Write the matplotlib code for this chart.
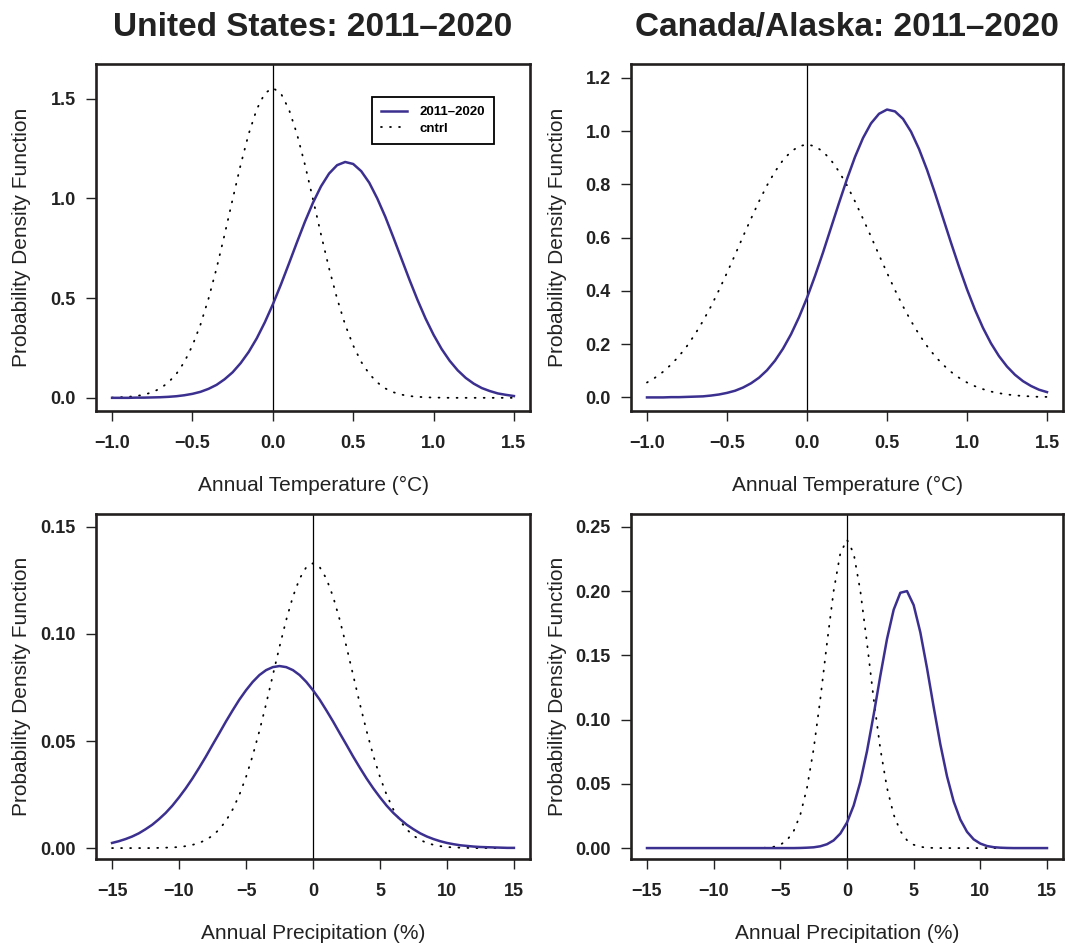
import numpy as np
import matplotlib
matplotlib.use("Agg")
import matplotlib.pyplot as plt

plt.rcParams["font.family"] = ["Liberation Sans", "DejaVu Sans"]

# --- data ---
temp_x = np.round(np.arange(-1.0, 1.5001, 0.05), 2)
precip_x = np.arange(-15.0, 15.01, 0.5)

us_temp_cntrl = [0.001, 0.003, 0.005, 0.009, 0.016, 0.028, 0.047, 0.077, 0.120, 0.180,
                 0.262, 0.367, 0.497, 0.649, 0.818, 0.995, 1.168, 1.323, 1.446, 1.526,
                 1.553, 1.526, 1.446, 1.323, 1.168, 0.995, 0.818, 0.649, 0.497, 0.367,
                 0.262, 0.180, 0.120, 0.077, 0.047, 0.028, 0.016, 0.009, 0.005, 0.003,
                 0.001, 0.001, 0.0, 0.0, 0.0, 0.0, 0.0, 0.0, 0.0, 0.0, 0.0]
us_temp_run = [0.000, 0.000, 0.000, 0.001, 0.001, 0.002, 0.003, 0.005, 0.008, 0.013,
               0.020, 0.030, 0.045, 0.065, 0.093, 0.128, 0.174, 0.230, 0.298, 0.378,
               0.468, 0.567, 0.672, 0.779, 0.883, 0.978, 1.060, 1.124, 1.166, 1.182,
               1.172, 1.136, 1.078, 0.999, 0.907, 0.804, 0.698, 0.592, 0.491, 0.398,
               0.316, 0.245, 0.186, 0.138, 0.100, 0.071, 0.049, 0.034, 0.022, 0.015,
               0.009]

ca_temp_cntrl = [0.056, 0.074, 0.096, 0.123, 0.155, 0.193, 0.237, 0.287, 0.342, 0.403,
                 0.468, 0.535, 0.604, 0.671, 0.736, 0.796, 0.848, 0.891, 0.923, 0.943,
                 0.950, 0.943, 0.923, 0.891, 0.848, 0.796, 0.736, 0.671, 0.604, 0.535,
                 0.468, 0.403, 0.342, 0.287, 0.237, 0.193, 0.155, 0.123, 0.096, 0.074,
                 0.056, 0.042, 0.031, 0.022, 0.016, 0.011, 0.008, 0.005, 0.004, 0.002,
                 0.002]
ca_temp_run = [0.000, 0.000, 0.000, 0.001, 0.001, 0.002, 0.003, 0.004, 0.007, 0.011,
               0.017, 0.025, 0.037, 0.053, 0.074, 0.102, 0.138, 0.183, 0.237, 0.301,
               0.374, 0.456, 0.544, 0.637, 0.730, 0.820, 0.903, 0.974, 1.029, 1.065,
               1.081, 1.074, 1.046, 0.998, 0.933, 0.855, 0.767, 0.674, 0.581, 0.491,
               0.406, 0.329, 0.261, 0.203, 0.155, 0.116, 0.085, 0.061, 0.043, 0.029,
               0.020]

us_precip_cntrl = [0.0, 0.0, 0.0, 0.0, 0.0, 0.0, 0.0, 0.0001, 0.0002, 0.0003,
                   0.0005, 0.0009, 0.0015, 0.0024, 0.0038, 0.0058, 0.0087, 0.0127, 0.0180, 0.0248,
                   0.0332, 0.0432, 0.0547, 0.0673, 0.0807, 0.0940, 0.1065, 0.1174, 0.1258, 0.1312,
                   0.1330,
                   0.1312, 0.1258, 0.1174, 0.1065, 0.0940, 0.0807, 0.0673, 0.0547, 0.0432, 0.0332,
                   0.0248, 0.0180, 0.0127, 0.0087, 0.0058, 0.0038, 0.0024, 0.0015, 0.0009, 0.0005,
                   0.0003, 0.0002, 0.0001, 0.0, 0.0, 0.0, 0.0, 0.0, 0.0, 0.0]
us_precip_run = [0.0024, 0.0032, 0.0042, 0.0054, 0.0069, 0.0088, 0.0109, 0.0135, 0.0164, 0.0198,
                 0.0237, 0.0279, 0.0325, 0.0375, 0.0427, 0.0482, 0.0536, 0.0591, 0.0643, 0.0693,
                 0.0737, 0.0776, 0.0808, 0.0831, 0.0845, 0.0850, 0.0845, 0.0831, 0.0808, 0.0776,
                 0.0737, 0.0693, 0.0643, 0.0591, 0.0536, 0.0482, 0.0427, 0.0375, 0.0325, 0.0279,
                 0.0237, 0.0198, 0.0164, 0.0135, 0.0109, 0.0088, 0.0069, 0.0054, 0.0042, 0.0032,
                 0.0024, 0.0018, 0.0013, 0.0010, 0.0007, 0.0005, 0.0004, 0.0003, 0.0002, 0.0001,
                 0.0001]

ca_precip_cntrl = [0.0, 0.0, 0.0, 0.0, 0.0, 0.0, 0.0, 0.0, 0.0, 0.0,
                   0.0, 0.0, 0.0, 0.0, 0.0, 0.0, 0.0, 0.0001, 0.0003, 0.0010,
                   0.0026, 0.0061, 0.0132, 0.0260, 0.0469, 0.0772, 0.1161, 0.1596, 0.2002, 0.2294,
                   0.2400,
                   0.2294, 0.2002, 0.1596, 0.1161, 0.0772, 0.0469, 0.0260, 0.0132, 0.0061, 0.0026,
                   0.0010, 0.0003, 0.0001, 0.0, 0.0, 0.0, 0.0, 0.0, 0.0, 0.0,
                   0.0, 0.0, 0.0, 0.0, 0.0, 0.0, 0.0, 0.0, 0.0, 0.0]
ca_precip_run = [0.0, 0.0, 0.0, 0.0, 0.0, 0.0, 0.0, 0.0, 0.0, 0.0,
                 0.0, 0.0, 0.0, 0.0, 0.0, 0.0, 0.0, 0.0, 0.0, 0.0,
                 0.0, 0.0, 0.0, 0.0001, 0.0003, 0.0006, 0.0014, 0.0030, 0.0060, 0.0113,
                 0.0199,
                 0.0331, 0.0515, 0.0754, 0.1038, 0.1341, 0.1627, 0.1855, 0.1987, 0.2000, 0.1891,
                 0.1679, 0.1401, 0.1098, 0.0808, 0.0559, 0.0363, 0.0222, 0.0127, 0.0068, 0.0035,
                 0.0016, 0.0007, 0.0003, 0.0001, 0.0, 0.0, 0.0, 0.0, 0.0, 0.0]

temp_ticks = [-1.0, -0.5, 0.0, 0.5, 1.0, 1.5]
precip_ticks = [-15, -10, -5, 0, 5, 10, 15]

run_color = "#3B2F8F"
frame_color = "#231F20"

fig = plt.figure(figsize=(10.65, 9.47), dpi=100)


def fmt(v, pattern):
    return pattern.format(v).replace("-", "\u2212")


def draw_panel(rect, x, run, cntrl, xlim, ylim, xticks, xpat, yticks, ypat, xlabel, title=None):
    ax = fig.add_axes(rect)
    ax.axvline(0, color="black", lw=0.9, zorder=1)
    h_cntrl, = ax.plot(x, cntrl, color="black", lw=1.3, linestyle=(0, (0.5, 4.5)),
                       dash_capstyle="round", zorder=2)
    h_run, = ax.plot(x, run, color=run_color, lw=1.8, zorder=3)
    ax.set_xlim(xlim)
    ax.set_ylim(ylim)
    ax.set_xticks(xticks)
    ax.set_xticklabels([fmt(v, xpat) for v in xticks], fontweight="bold", fontsize=13)
    ax.set_yticks(yticks)
    ax.set_yticklabels([fmt(v, ypat) for v in yticks], fontweight="bold", fontsize=13)
    ax.tick_params(axis="x", length=7.5, width=1.0, pad=10, colors="#222222")
    ax.tick_params(axis="y", length=7.5, width=1.0, pad=7, colors="#222222")
    for s in ax.spines.values():
        s.set_linewidth(1.9)
        s.set_color(frame_color)
    ax.set_xlabel(xlabel, fontsize=15, va="center", color="#222222")
    ax.xaxis.set_label_coords(0.5, -0.216)
    ax.set_ylabel("Probability Density Function", fontsize=15, va="center", color="#222222")
    ax.yaxis.set_label_coords(-0.171, 0.5)
    if title:
        ax.set_title(title, fontsize=24, fontweight="bold", pad=20, color="#222222")
    return ax, h_run, h_cntrl


col_l, col_r = 96 / 1065, 631 / 1065
w_l, w_r = 434 / 1065, 432 / 1065
row_t, row_b = 1 - 411 / 947, 1 - 859 / 947
h_t, h_b = 347 / 947, 345 / 947

ax1, h_run, h_cntrl = draw_panel([col_l, row_t, w_l, h_t], temp_x, us_temp_run, us_temp_cntrl,
                                 (-1.1, 1.6), (-0.066, 1.673), temp_ticks, "{:.1f}",
                                 [0.0, 0.5, 1.0, 1.5], "{:.1f}",
                                 "Annual Temperature (\u00b0C)", "United States: 2011\u20132020")
draw_panel([col_r, row_t, w_r, h_t], temp_x, ca_temp_run, ca_temp_cntrl,
           (-1.1, 1.6), (-0.051, 1.252), temp_ticks, "{:.1f}",
           [0.0, 0.2, 0.4, 0.6, 0.8, 1.0, 1.2], "{:.1f}",
           "Annual Temperature (\u00b0C)", "Canada/Alaska: 2011\u20132020")
draw_panel([col_l, row_b, w_l, h_b], precip_x, us_precip_run, us_precip_cntrl,
           (-16.2, 16.2), (-0.0051, 0.156), precip_ticks, "{:d}",
           [0.0, 0.05, 0.10, 0.15], "{:.2f}", "Annual Precipitation (%)")
draw_panel([col_r, row_b, w_r, h_b], precip_x, ca_precip_run, ca_precip_cntrl,
           (-16.2, 16.2), (-0.0085, 0.26), precip_ticks, "{:d}",
           [0.0, 0.05, 0.10, 0.15, 0.20, 0.25], "{:.2f}", "Annual Precipitation (%)")

leg = ax1.legend([h_run, h_cntrl], ["2011\u20132020", "cntrl"], loc="upper right",
                 bbox_to_anchor=(0.917, 0.905), borderaxespad=0, fancybox=False,
                 edgecolor="black", framealpha=1, prop={"weight": "bold", "size": 9.5},
                 handlelength=2.0, handletextpad=0.9, labelspacing=0.3, borderpad=0.7)
leg.get_frame().set_linewidth(1.3)

fig.savefig("out.png", dpi=100)
